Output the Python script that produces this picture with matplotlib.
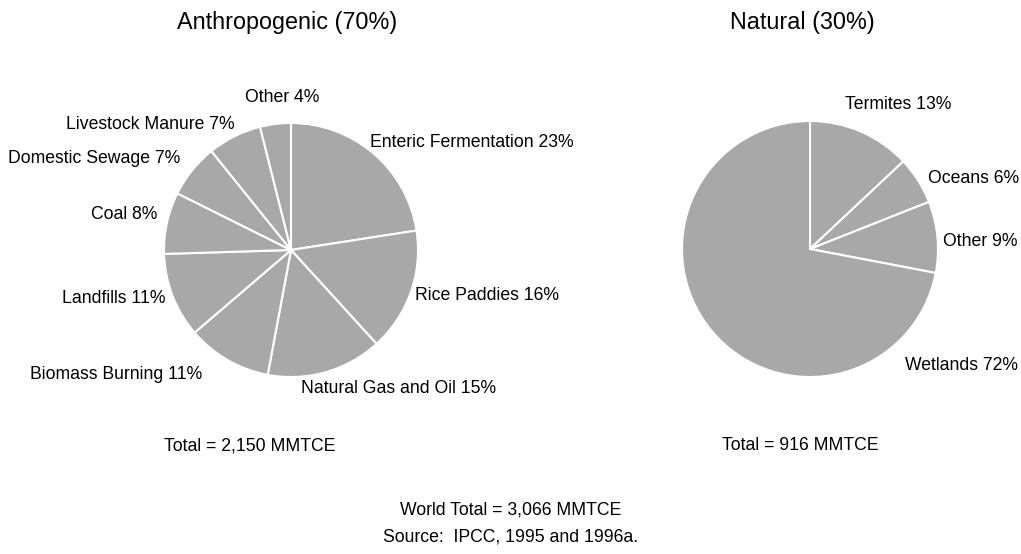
import matplotlib.pyplot as plt

plt.rcParams['font.family'] = ['Liberation Sans', 'DejaVu Sans']

# anthropogenic sources (% of anthropogenic total), clockwise from top
anthro_labels = ['Enteric Fermentation 23%', 'Rice Paddies 16%', 'Natural Gas and Oil 15%',
                 'Biomass Burning 11%', 'Landfills 11%', 'Coal 8%', 'Domestic Sewage 7%',
                 'Livestock Manure 7%', 'Other 4%']
anthro_values = [23, 16, 15, 11, 11, 8, 7, 7, 4]

# natural sources
natural_labels = ['Termites 13%', 'Oceans 6%', 'Other 9%', 'Wetlands 72%']
natural_values = [13, 6, 9, 72]

anthro_total = 'Total = 2,150 MMTCE'
natural_total = 'Total = 916 MMTCE'
world_total = 'World Total = 3,066 MMTCE'
source = 'Source:  IPCC, 1995 and 1996a.'

anthro_lab_pos = [(0.62, 0.85, 'left'), (0.98, -0.36, 'left'), (0.08, -1.09, 'left'),
                  (-0.70, -0.98, 'right'), (-0.99, -0.38, 'right'), (-1.05, 0.28, 'right'),
                  (-0.87, 0.72, 'right'), (-0.44, 0.99, 'right'), (-0.07, 1.20, 'center')]
natural_lab_pos = [(0.27, 1.13, 'left'), (0.92, 0.55, 'left'), (1.04, 0.06, 'left'),
                   (0.74, -0.91, 'left')]

W, H = 1021, 554
fig = plt.figure(figsize=(W / 100, H / 100), dpi=100)
grey = '#a8a8a8'
fs = 12.7


def draw_pie(cx, cy, r, values, labels, lab_pos):
    ax = fig.add_axes([(cx - r) / W, (H - cy - r) / H, 2 * r / W, 2 * r / H])
    ax.pie(values, colors=[grey] * len(values), startangle=90, counterclock=False,
           wedgeprops=dict(edgecolor='white', linewidth=1.5))
    ax.set_xlim(-1, 1)
    ax.set_ylim(-1, 1)
    ax.set_aspect('auto')
    ax.axis('off')
    for lab, (x, y, ha) in zip(labels, lab_pos):
        ax.text(x, y, lab, ha=ha, va='center', fontsize=fs)
    return ax


draw_pie(291, 250, 127, anthro_values, anthro_labels, anthro_lab_pos)
draw_pie(810, 249, 128, natural_values, natural_labels, natural_lab_pos)

fig.text(287 / W, 1 - 22 / H, 'Anthropogenic (70%)', ha='center', va='center', fontsize=16.8)
fig.text(802 / W, 1 - 22 / H, 'Natural (30%)', ha='center', va='center', fontsize=16.8)
fig.text(250 / W, 1 - 446 / H, anthro_total, ha='center', va='center', fontsize=fs)
fig.text(800 / W, 1 - 446 / H, natural_total, ha='center', va='center', fontsize=fs)
fig.text(511 / W, 1 - 510 / H, world_total, ha='center', va='center', fontsize=fs)
fig.text(511 / W, 1 - 537 / H, source, ha='center', va='center', fontsize=fs)

fig.savefig('out.png', dpi=100)
